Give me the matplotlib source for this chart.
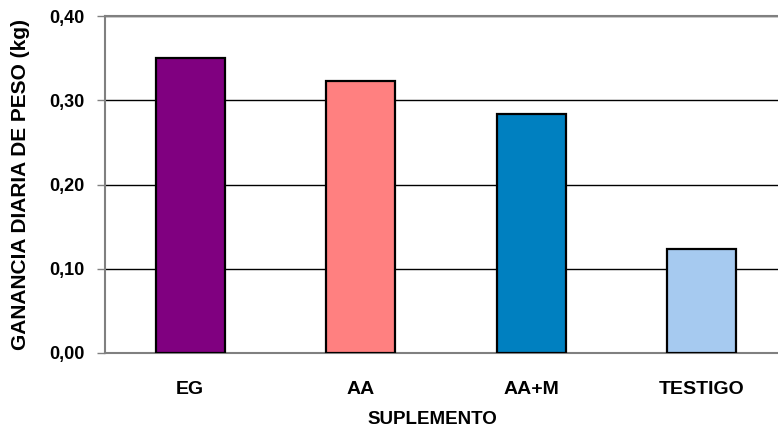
import matplotlib
matplotlib.use("Agg")
import matplotlib.pyplot as plt
from matplotlib.ticker import FixedLocator, FuncFormatter

categories = ["EG", "AA", "AA+M", "TESTIGO"]
values = [0.350, 0.323, 0.284, 0.123]
colors = ["#800080", "#FF8080", "#0080C0", "#A6CAF0"]
yticks = [0.0, 0.1, 0.2, 0.3, 0.4]

plt.rcParams['font.family'] = ['Liberation Sans', 'DejaVu Sans']
plt.rcParams['font.weight'] = 'bold'

fig = plt.figure(figsize=(7.78, 4.29), dpi=100)
W, H = 778, 429
L, R, T, B = 105, 787, 16, 353
ax = fig.add_axes([L / W, 1 - B / H, (R - L) / W, (B - T) / H])

x = list(range(len(categories)))
ax.bar(x, values, width=0.405, color=colors, edgecolor="black", linewidth=1.6, zorder=3)

ax.set_xlim(-0.5, 3.5)
ax.set_ylim(0, 0.4)
ax.yaxis.set_major_locator(FixedLocator(yticks))
ax.yaxis.set_major_formatter(FuncFormatter(lambda v, p: f"{v:.2f}".replace(".", ",")))
ax.set_xticks(x)
ax.set_xticklabels(categories)
ax.tick_params(axis="x", length=0, pad=20, labelsize=14)
ax.tick_params(axis="y", length=6, width=1, color="#808080", pad=9, labelsize=13)
for lab in ax.get_xticklabels() + ax.get_yticklabels():
    lab.set_fontweight("bold")

ax.grid(axis="y", color="black", linewidth=1, zorder=0)
for s in ["left", "bottom", "top"]:
    ax.spines[s].set_color("#808080")
    ax.spines[s].set_linewidth(1.5)
ax.spines["right"].set_visible(False)

ax.set_ylabel("GANANCIA DIARIA DE PESO (kg)", fontsize=15, fontweight="bold")
ax.yaxis.set_label_coords((21 - L) / (R - L), 0.5)
ax.yaxis.label.set_va("center")
ax.set_xlabel("SUPLEMENTO", fontsize=13.5, fontweight="bold")
ax.xaxis.set_label_coords((432 - L) / (R - L), -(420 - B) / (B - T))
ax.xaxis.label.set_va("center")

fig.savefig("out.png", dpi=100)
